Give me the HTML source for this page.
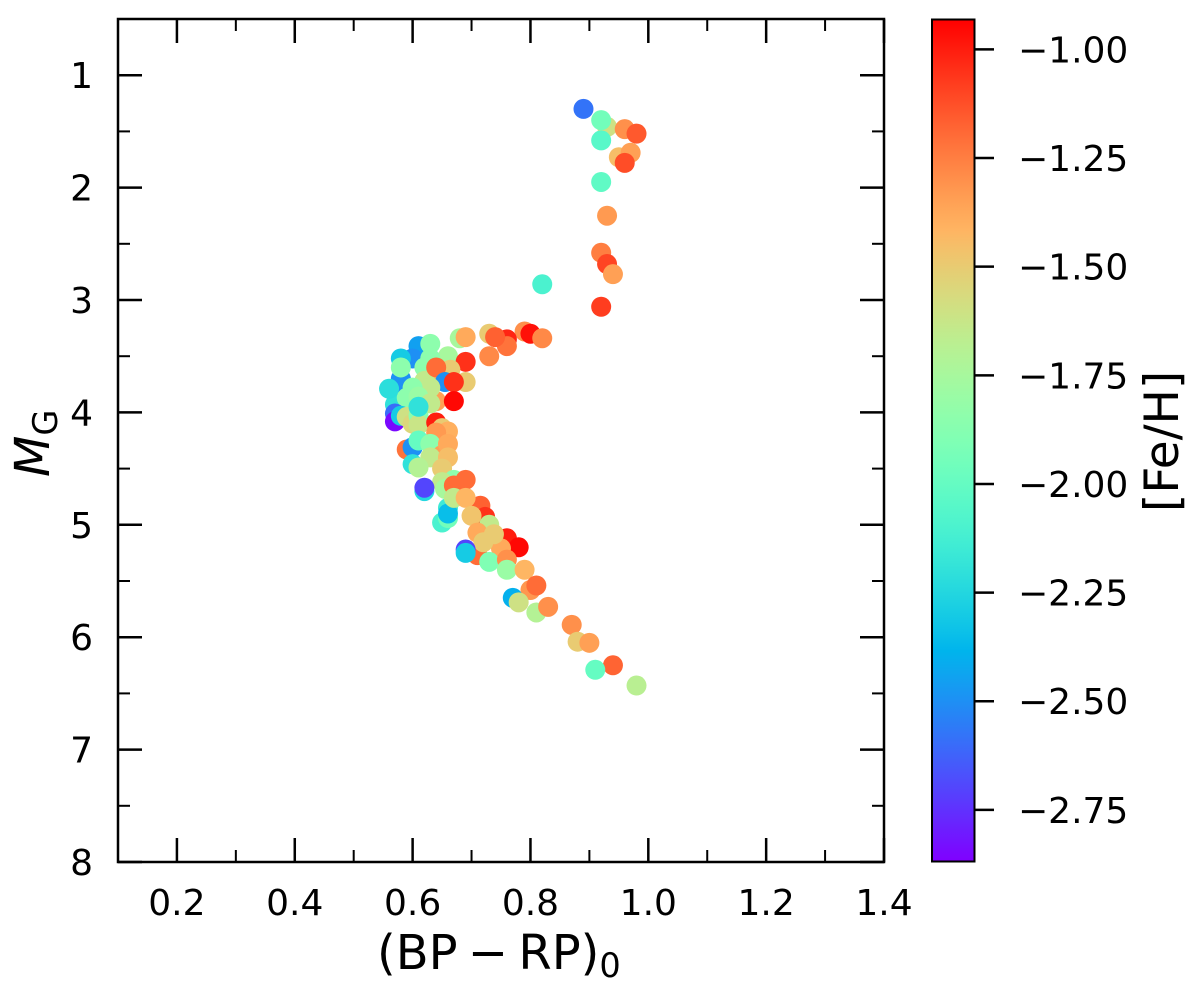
<!DOCTYPE html>
<html lang="en">
<head>
<meta charset="utf-8">
<title>Colour-magnitude diagram</title>
<style>
html,body{margin:0;padding:0;background:#fff;width:1200px;height:983px;overflow:hidden}
svg{display:block;font-family:"DejaVu Sans","Liberation Sans",sans-serif;fill:#000}
</style>
</head>
<body>
<svg id="chart" xmlns="http://www.w3.org/2000/svg" width="1200" height="983" viewBox="0 0 1200 983">
  <defs>
    <linearGradient id="rainbow-gradient" x1="0" y1="1" x2="0" y2="0"></linearGradient>
  </defs>
  <rect x="0" y="0" width="1200" height="983" fill="#fff"></rect>
  <g id="points"></g>
  <g id="ticks"></g>
  <rect x="118" y="19" width="766" height="843" fill="none" stroke="#000" stroke-width="2.5"></rect>
  <g id="tick-labels" font-size="36"></g>
  <text x="377" y="969" font-size="48" word-spacing="-5">(BP − RP)<tspan font-size="33.6" dy="8">0</tspan></text>
  <text transform="translate(49,477) rotate(-90)" font-size="48"><tspan font-style="italic">M</tspan><tspan font-size="33.6" dy="8">G</tspan></text>
  <rect x="932" y="19.5" width="42.5" height="842" fill="url(#rainbow-gradient)" stroke="#000" stroke-width="2"></rect>
  <g id="cbar-ticks" font-size="36"></g>
  <text transform="translate(1178,512) rotate(-90)" font-size="47">[Fe/H]</text>
</svg>
<script>
var bpRp = [
0.89,0.93,0.92,0.96,0.98,0.92,0.95,0.97,0.96,0.92,0.93,0.92,0.93,0.94,0.82,0.92,
0.79,0.80,0.82,0.76,0.76,0.73,0.74,0.73,0.68,0.69,
0.64,0.66,0.65,0.69,0.66,0.69,0.664,0.61,0.60,0.58,0.58,0.575,0.58,0.57,
0.63,0.63,0.62,0.62,0.64,0.655,0.67,0.67,
0.56,0.60,0.59,0.63,0.60,0.58,0.61,0.63,
0.57,0.57,0.58,0.59,0.60,0.61,0.61,0.61,0.64,0.65,0.66,0.64,
0.59,0.60,0.61,0.63,0.65,0.63,0.66,0.66,0.60,0.61,0.65,0.67,0.65,0.655,0.69,0.67,0.62,0.62,
0.715,0.723,0.66,0.65,0.66,0.66,0.67,0.69,0.70,
0.71,0.76,0.78,0.75,0.73,0.71,0.72,0.738,0.73,0.76,0.76,0.79,0.69,0.69,
0.80,0.81,0.77,0.78,0.81,0.83,0.87,0.88,0.90,0.94,0.91,0.98
];
var absMagG = [
1.30,1.46,1.40,1.48,1.52,1.58,1.73,1.69,1.78,1.95,2.25,2.58,2.68,2.77,2.86,3.06,
3.28,3.30,3.34,3.35,3.41,3.30,3.33,3.50,3.34,3.33,
3.90,3.62,3.70,3.73,3.50,3.55,3.62,3.41,3.52,3.52,3.70,3.78,3.88,3.93,
3.39,3.52,3.60,3.72,3.60,3.73,3.73,3.90,
3.79,3.93,3.87,3.78,3.78,3.60,3.86,3.92,
4.01,4.08,4.03,4.04,4.10,4.03,4.11,3.95,4.09,4.14,4.17,4.18,
4.33,4.31,4.25,4.28,4.38,4.40,4.28,4.40,4.46,4.49,4.50,4.60,4.62,4.68,4.60,4.65,4.70,4.67,
4.83,4.93,4.85,4.98,4.94,4.90,4.76,4.76,4.92,
5.27,5.12,5.20,5.21,5.00,5.07,5.155,5.084,5.33,5.31,5.40,5.40,5.22,5.25,
5.58,5.54,5.65,5.69,5.78,5.73,5.89,6.04,6.05,6.25,6.29,6.43
];
var feH = [
-2.58,-1.6,-1.95,-1.3,-1.15,-2.05,-1.45,-1.35,-1.12,-2.02,-1.33,-1.25,-1.1,-1.35,-2.1,-1.08,
-1.3,-0.97,-1.28,-1.02,-1.22,-1.5,-1.17,-1.28,-1.75,-1.38,
-1.35,-1.4,-1.5,-1.5,-1.75,-1.05,-1.5,-2.45,-2.5,-2.3,-2.5,-2.5,-2.5,-2.2,
-1.85,-1.85,-1.85,-1.65,-1.2,-2.5,-1.05,-0.95,
-2.22,-1.85,-1.85,-1.65,-1.85,-1.85,-1.8,-1.65,
-2.6,-2.85,-2.3,-1.6,-1.55,-1.85,-1.62,-2.2,-1.0,-1.5,-1.4,-1.33,
-1.22,-2.5,-2.0,-1.85,-1.35,-1.65,-1.38,-1.45,-2.2,-1.7,-1.5,-1.85,-1.65,-1.75,-1.2,-1.2,-2.25,-2.7,
-1.17,-1.05,-2.15,-2.1,-1.95,-2.35,-1.65,-1.42,-1.47,
-1.2,-1.0,-0.95,-1.38,-1.65,-1.38,-1.5,-1.5,-1.9,-1.3,-1.8,-1.42,-2.7,-2.3,
-1.32,-1.2,-2.4,-1.6,-1.7,-1.3,-1.3,-1.5,-1.35,-1.18,-2.0,-1.68
];
var xMajorTicks = [0.2,0.4,0.6,0.8,1.0,1.2,1.4];
var xMajorLabels = ["0.2","0.4","0.6","0.8","1.0","1.2","1.4"];
var xMinorTicks = [0.3,0.5,0.7,0.9,1.1,1.3];
var yMajorTicks = [1,2,3,4,5,6,7,8];
var yMinorTicks = [1.5,2.5,3.5,4.5,5.5,6.5,7.5];
var cbarTicks = [-1,-1.25,-1.5,-1.75,-2,-2.25,-2.5,-2.75];
var cbarLabels = ["−1.00","−1.25","−1.50","−1.75","−2.00","−2.25","−2.50","−2.75"];
var xDomain = [0.1,1.4];
var yDomain = [0.5,8];
var fehDomain = [-2.87,-0.93];

var NS = "http://www.w3.org/2000/svg";
function xScale(v){ return 118 + (v - xDomain[0]) / (xDomain[1] - xDomain[0]) * 766; }
function yScale(v){ return 862 - (yDomain[1] - v) / (yDomain[1] - yDomain[0]) * 843; }
function cbarScale(v){ return 862 - (v - fehDomain[0]) / (fehDomain[1] - fehDomain[0]) * 843; }
function rainbow(t){
  var r = Math.min(1, Math.abs(2 * t - 0.5));
  var g = Math.sin(Math.PI * t);
  var b = Math.cos(Math.PI * t / 2);
  return "rgb(" + Math.round(r * 255) + "," + Math.round(g * 255) + "," + Math.round(b * 255) + ")";
}
function fehColor(v){ return rainbow((v - fehDomain[0]) / (fehDomain[1] - fehDomain[0])); }
function mk(tag, parent){ var e = document.createElementNS(NS, tag); parent.appendChild(e); return e; }
function line(parent, x1, y1, x2, y2, w){
  var l = mk("line", parent);
  l.setAttribute("x1", x1); l.setAttribute("y1", y1);
  l.setAttribute("x2", x2); l.setAttribute("y2", y2);
  l.setAttribute("stroke", "#000"); l.setAttribute("stroke-width", w);
  return l;
}

var grad = document.getElementById("rainbow-gradient");
for (var s = 0; s <= 40; s++) {
  var stop = mk("stop", grad);
  stop.setAttribute("offset", (s / 40));
  stop.setAttribute("stop-color", rainbow(s / 40));
}

var pts = document.getElementById("points");
for (var i = 0; i < bpRp.length; i++) {
  var c = mk("circle", pts);
  c.setAttribute("cx", xScale(bpRp[i]));
  c.setAttribute("cy", yScale(absMagG[i]));
  c.setAttribute("r", 10);
  c.setAttribute("fill", fehColor(feH[i]));
  
  
}

var ticks = document.getElementById("ticks");
var labels = document.getElementById("tick-labels");
xMajorTicks.forEach(function(v, k){
  var x = xScale(v);
  var a = line(ticks, x, 862, x, 838, 2.5);
  
  
  var b = line(ticks, x, 19, x, 43, 2.5);
  
  
  var t = mk("text", labels);
  t.setAttribute("x", x);
  t.setAttribute("y", 915);
  t.setAttribute("text-anchor", "middle");
  t.textContent = xMajorLabels[k];
  
  
});
xMinorTicks.forEach(function(v){
  var x = xScale(v);
  var a = line(ticks, x, 862, x, 850, 2);
  
  
  var b = line(ticks, x, 19, x, 31, 2);
  
  
});
yMajorTicks.forEach(function(v){
  var y = yScale(v);
  var a = line(ticks, 118, y, 142, y, 2.5);
  
  
  var b = line(ticks, 884, y, 860, y, 2.5);
  
  
  var t = mk("text", labels);
  t.setAttribute("x", 93);
  t.setAttribute("y", y + 13);
  t.setAttribute("text-anchor", "end");
  t.textContent = String(v);
  
  
});
yMinorTicks.forEach(function(v){
  var y = yScale(v);
  var a = line(ticks, 118, y, 130, y, 2);
  
  
  var b = line(ticks, 884, y, 872, y, 2);
  
  
});

var cb = document.getElementById("cbar-ticks");
cbarTicks.forEach(function(v, k){
  var y = cbarScale(v);
  var a = line(cb, 975, y, 994, y, 2.5);
  
  
  var t = mk("text", cb);
  t.setAttribute("x", 1018);
  t.setAttribute("y", y + 13);
  t.textContent = cbarLabels[k];
  
  
});
</script>
</body>
</html>
